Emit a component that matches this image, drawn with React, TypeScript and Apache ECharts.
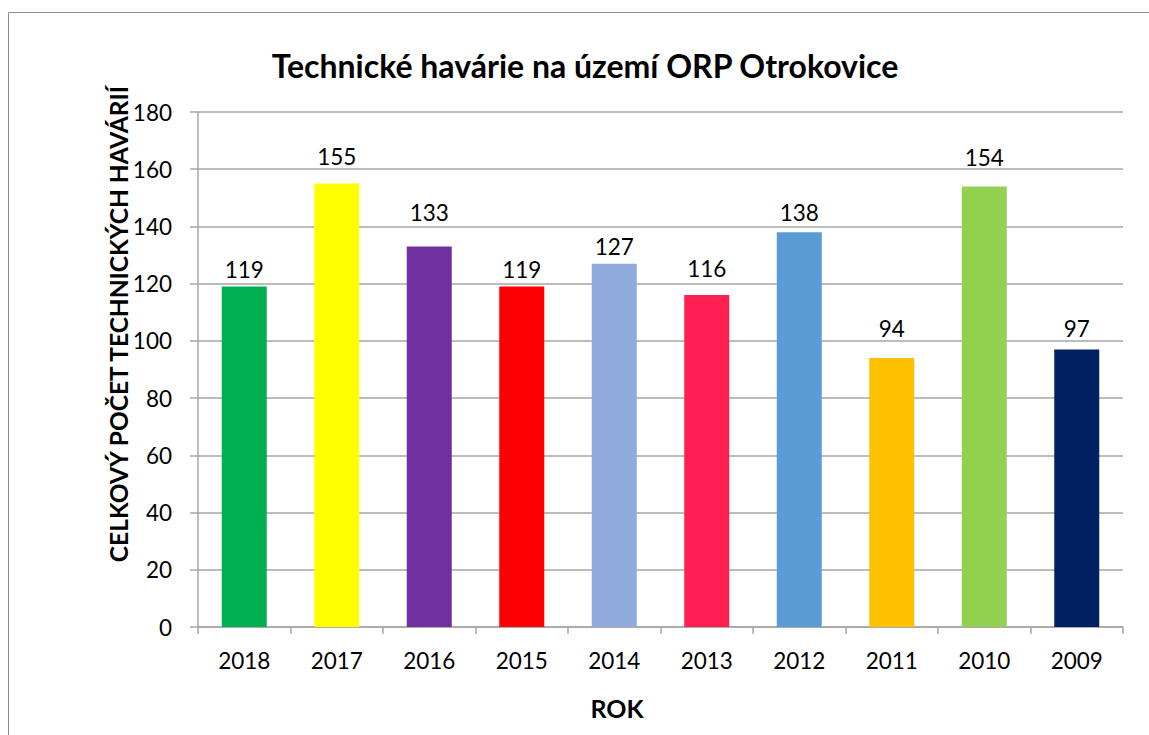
import React, { useEffect, useRef } from "react";
import * as echarts from "echarts";

const categories = ["2018", "2017", "2016", "2015", "2014", "2013", "2012", "2011", "2010", "2009"];
const values = [119, 155, 133, 119, 127, 116, 138, 94, 154, 97];
const barColors = ["#00B050", "#FFFF00", "#7030A0", "#FF0000", "#8FAADC", "#FF1F50", "#5B9BD5", "#FFC000", "#92D050", "#002060"];
// per-bar gap between bar top and its value label (as placed in the original)
const labelGaps = [6, 16, 22, 6, 6, 15, 8, 18, 17, 9];
const yTicks = { min: 0, max: 180, interval: 20 };
const titleText = "Technické havárie na území ORP Otrokovice";
const yAxisName = "CELKOVÝ POČET TECHNICKÝCH HAVÁRIÍ";
const xAxisName = "ROK";

const FONT = "Lato, 'Noto Sans', sans-serif";

export default function App() {
  const ref = useRef<HTMLDivElement>(null);
  useEffect(() => {
    if (!ref.current) return;
    const chart = echarts.init(ref.current, null, { renderer: "svg" });
    chart.setOption({
      animation: false,
      backgroundColor: "#ffffff",
      textStyle: { fontFamily: FONT },
      graphic: [
        {
          type: "rect",
          shape: { x: 8.5, y: 12.5, width: 1200, height: 800 },
          style: { fill: "none", stroke: "#8c8c8c", lineWidth: 1 },
          silent: true,
        },
        {
          type: "text",
          x: 585,
          y: 65,
          style: {
            text: titleText,
            fontFamily: FONT,
            fontSize: 32,
            fontWeight: "bold",
            fill: "#000",
            textAlign: "center",
            textVerticalAlign: "middle",
          },
        },
        {
          type: "text",
          x: 118,
          y: 324,
          rotation: Math.PI / 2,
          style: {
            text: yAxisName,
            fontFamily: FONT,
            fontSize: 24.5,
            fontWeight: "bold",
            fill: "#000",
            textAlign: "center",
            textVerticalAlign: "middle",
          },
        },
        {
          type: "text",
          x: 617,
          y: 708,
          style: {
            text: xAxisName,
            fontFamily: FONT,
            fontSize: 25,
            fontWeight: "bold",
            fill: "#000",
            textAlign: "center",
            textVerticalAlign: "middle",
          },
        },
      ],
      grid: { left: 198, top: 112, right: 26, bottom: 108, containLabel: false },
      xAxis: {
        type: "category",
        data: categories,
        axisLine: { lineStyle: { color: "#a6a6a6", width: 1.5 } },
        axisTick: { show: true, length: 7, lineStyle: { color: "#a6a6a6", width: 1.5 } },
        axisLabel: { color: "#000", fontSize: 22.5, fontFamily: FONT, margin: 22 },
      },
      yAxis: {
        type: "value",
        min: yTicks.min,
        max: yTicks.max,
        interval: yTicks.interval,
        axisLine: { show: true, lineStyle: { color: "#a6a6a6", width: 1.5 } },
        axisTick: { show: true, length: 8, lineStyle: { color: "#a6a6a6", width: 1.5 } },
        splitLine: { show: true, lineStyle: { color: "#a6a6a6", width: 1.5 } },
        axisLabel: { color: "#000", fontSize: 22.5, fontFamily: FONT, margin: 26 },
      },
      series: [
        {
          type: "bar",
          data: values.map((v, i) => ({
            value: v,
            itemStyle: { color: barColors[i] },
            label: { distance: labelGaps[i] },
          })),
          barWidth: 45,
          label: {
            show: true,
            position: "top",
            distance: 6,
            color: "#000",
            fontSize: 22.5,
            fontFamily: FONT,
          },
        },
      ],
    });
    return () => chart.dispose();
  }, []);
  return (
    <div
      ref={ref}
      style={{ position: "fixed", left: 0, top: 0, width: 1149, height: 735 }}
    />
  );
}
